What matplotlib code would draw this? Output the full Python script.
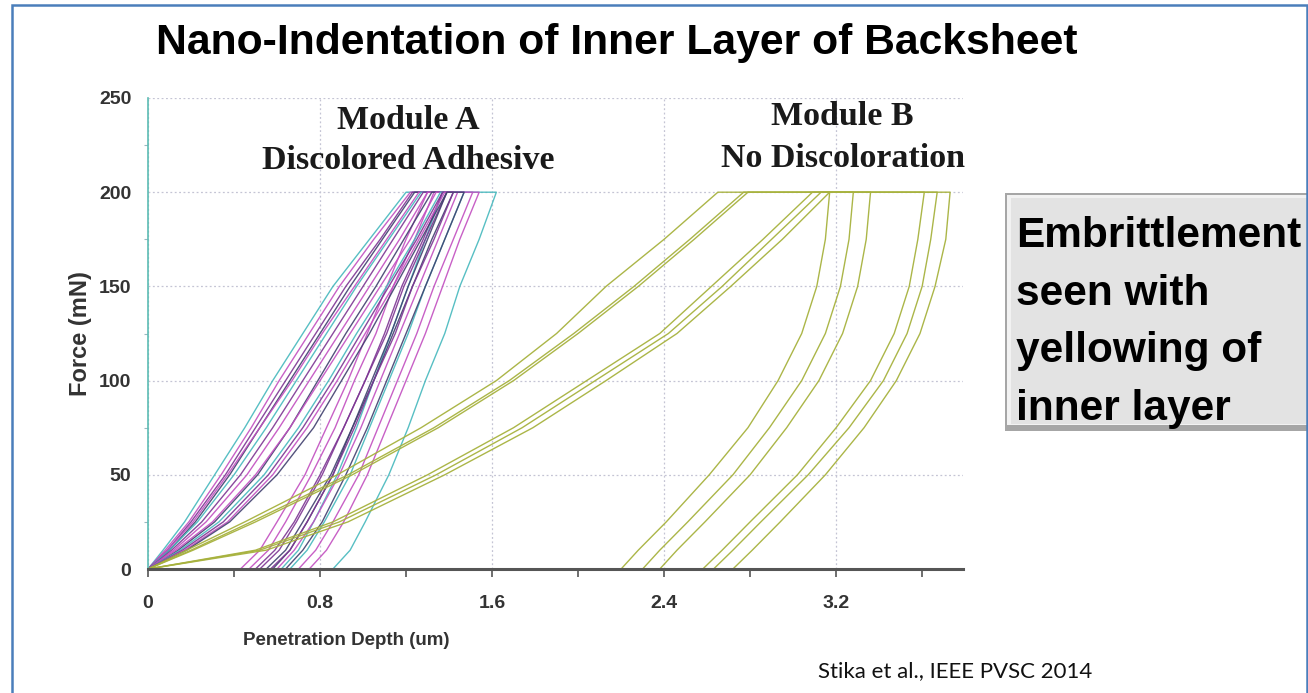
import matplotlib
matplotlib.use("Agg")
import matplotlib.pyplot as plt
from matplotlib.patches import Rectangle
from matplotlib.ticker import MultipleLocator

plt.rcParams['font.family'] = ['Liberation Sans', 'DejaVu Sans']

FORCE = [0, 10, 25, 50, 75, 100, 125, 150, 175, 200]

# Module A (discolored adhesive): depth (um) on loading, at each FORCE level
A_LOAD = [
    [0, 0.07, 0.17, 0.31, 0.45, 0.58, 0.72, 0.86, 1.03, 1.20],
    [0, 0.08, 0.19, 0.34, 0.48, 0.61, 0.75, 0.89, 1.05, 1.22],
    [0, 0.09, 0.20, 0.36, 0.50, 0.64, 0.78, 0.92, 1.08, 1.23],
    [0, 0.10, 0.22, 0.38, 0.52, 0.66, 0.80, 0.94, 1.09, 1.24],
    [0, 0.09, 0.21, 0.37, 0.52, 0.67, 0.81, 0.96, 1.11, 1.26],
    [0, 0.10, 0.23, 0.40, 0.55, 0.69, 0.83, 0.97, 1.12, 1.27],
    [0, 0.11, 0.25, 0.43, 0.58, 0.72, 0.86, 1.00, 1.14, 1.28],
    [0, 0.12, 0.27, 0.46, 0.61, 0.75, 0.89, 1.03, 1.17, 1.30],
    [0, 0.14, 0.31, 0.51, 0.66, 0.79, 0.92, 1.06, 1.19, 1.32],
    [0, 0.13, 0.30, 0.50, 0.66, 0.80, 0.94, 1.08, 1.22, 1.34],
    [0, 0.15, 0.33, 0.54, 0.70, 0.84, 0.97, 1.11, 1.24, 1.36],
    [0, 0.16, 0.35, 0.56, 0.72, 0.86, 0.99, 1.12, 1.25, 1.37],
    [0, 0.17, 0.37, 0.58, 0.74, 0.88, 1.01, 1.14, 1.26, 1.38],
    [0, 0.18, 0.38, 0.60, 0.77, 0.90, 1.03, 1.15, 1.27, 1.39],
]
# Module A: depth (um) on unloading, at each FORCE level (last = max depth)
A_UNLOAD = [
    [0.62, 0.70, 0.77, 0.88, 0.97, 1.05, 1.13, 1.21, 1.29, 1.37],
    [0.43, 0.52, 0.60, 0.73, 0.83, 0.93, 1.02, 1.11, 1.20, 1.30],
    [0.50, 0.59, 0.68, 0.80, 0.91, 1.01, 1.11, 1.19, 1.29, 1.39],
    [0.55, 0.64, 0.72, 0.85, 0.95, 1.05, 1.14, 1.23, 1.32, 1.42],
    [0.47, 0.56, 0.64, 0.76, 0.87, 0.96, 1.06, 1.14, 1.24, 1.33],
    [0.66, 0.74, 0.82, 0.94, 1.03, 1.12, 1.21, 1.29, 1.38, 1.47],
    [0.52, 0.61, 0.69, 0.81, 0.91, 1.01, 1.10, 1.18, 1.28, 1.37],
    [0.70, 0.78, 0.86, 0.98, 1.07, 1.16, 1.25, 1.33, 1.42, 1.51],
    [0.58, 0.66, 0.74, 0.86, 0.95, 1.04, 1.13, 1.21, 1.30, 1.39],
    [0.60, 0.68, 0.77, 0.89, 0.99, 1.08, 1.17, 1.26, 1.35, 1.44],
    [0.86, 0.94, 1.01, 1.12, 1.21, 1.29, 1.38, 1.45, 1.54, 1.62],
    [0.57, 0.66, 0.74, 0.86, 0.96, 1.05, 1.15, 1.23, 1.33, 1.42],
    [0.75, 0.83, 0.91, 1.02, 1.11, 1.20, 1.29, 1.37, 1.45, 1.54],
    [0.64, 0.72, 0.81, 0.92, 1.02, 1.11, 1.20, 1.29, 1.38, 1.47],
]
A_COLORS = ['#45b8bd', '#c24fc0', '#7d3593', '#41406f', '#c24fc0', '#45b8bd', '#7d3593',
            '#c24fc0', '#41406f', '#c24fc0', '#45b8bd', '#7d3593', '#c24fc0', '#41406f']

# Module B (no discoloration)
B_LOAD = [
    [0, 0.18, 0.45, 0.88, 1.27, 1.62, 1.90, 2.13, 2.40, 2.65],
    [0, 0.20, 0.48, 0.93, 1.33, 1.68, 1.98, 2.26, 2.52, 2.77],
    [0, 0.21, 0.50, 0.95, 1.35, 1.70, 2.00, 2.28, 2.54, 2.79],
    [0, 0.50, 0.86, 1.30, 1.70, 2.04, 2.38, 2.62, 2.86, 3.09],
    [0, 0.52, 0.89, 1.34, 1.74, 2.08, 2.42, 2.67, 2.90, 3.13],
    [0, 0.55, 0.93, 1.38, 1.79, 2.13, 2.46, 2.71, 2.95, 3.17],
]
B_UNLOAD = [
    [2.20, 2.28, 2.41, 2.61, 2.79, 2.93, 3.04, 3.11, 3.15, 3.17],
    [2.30, 2.38, 2.51, 2.72, 2.89, 3.04, 3.15, 3.22, 3.26, 3.28],
    [2.38, 2.46, 2.59, 2.80, 2.97, 3.12, 3.23, 3.30, 3.34, 3.36],
    [2.58, 2.67, 2.80, 3.02, 3.20, 3.36, 3.47, 3.54, 3.58, 3.61],
    [2.63, 2.72, 2.85, 3.07, 3.26, 3.42, 3.53, 3.60, 3.64, 3.67],
    [2.72, 2.81, 2.94, 3.15, 3.33, 3.48, 3.59, 3.66, 3.71, 3.73],
]
B_COLOR = '#a7b23e'

X_TICKS = [0, 0.8, 1.6, 2.4, 3.2]
X_TICK_LABELS = ['0', '0.8', '1.6', '2.4', '3.2']
Y_TICKS = [0, 50, 100, 150, 200, 250]

W, H = 1308, 693


def fx(px):
    return px / W


def fy(py):
    return 1 - py / H


fig = plt.figure(figsize=(W / 100, H / 100), dpi=100)
fig.patch.set_facecolor('white')

ax = fig.add_axes([fx(148), fy(569), (963 - 148) / W, (569 - 98) / H])

# one closed loop per indent: loading up, hold at max force, unloading down
for load, unload, color in zip(A_LOAD, A_UNLOAD, A_COLORS):
    ax.plot(load + unload[::-1], FORCE + FORCE[::-1], color=color, lw=1.0, alpha=0.9,
            solid_joinstyle='round')
for load, unload in zip(B_LOAD, B_UNLOAD):
    ax.plot(load + unload[::-1], FORCE + FORCE[::-1], color=B_COLOR, lw=1.0, alpha=0.95,
            solid_joinstyle='round')

ax.set_xlim(0, 3.79)
ax.set_ylim(0, 250)

ax.set_xticks(X_TICKS)
ax.set_xticklabels(X_TICK_LABELS)
ax.xaxis.set_minor_locator(MultipleLocator(0.4))
ax.set_yticks(Y_TICKS)
ax.yaxis.set_minor_locator(MultipleLocator(25))

ax.tick_params(axis='x', which='both', direction='out', length=6, width=1.2,
               color='#555555', pad=13, labelsize=14, labelcolor='#333333')
ax.tick_params(axis='y', which='major', length=0, pad=12, labelsize=14,
               labelcolor='#333333')
ax.tick_params(axis='y', which='minor', direction='out', length=3, width=0.8,
               color='#9ab8c0')
for lab in ax.get_xticklabels() + ax.get_yticklabels():
    lab.set_fontweight('bold')

ax.grid(True, which='major', linestyle=(0, (1.5, 2)), color='#c4c4d4', lw=0.9)
ax.set_axisbelow(True)

for side in ['top', 'right']:
    ax.spines[side].set_visible(False)
ax.spines['left'].set_color('#5cbcb4')
ax.spines['left'].set_linewidth(1.2)
ax.spines['bottom'].set_color('#555555')
ax.spines['bottom'].set_linewidth(2.2)

ax.set_xlabel('Penetration Depth (um)', fontsize=13.5, fontweight='bold', color='#333333',
              va='center')
ax.xaxis.set_label_coords(0.243, -0.151)
ax.set_ylabel('Force (mN)', fontsize=17, fontweight='bold', color='#333333', va='center')
ax.yaxis.set_label_coords(-0.083, 0.5)

serif = dict(ha='center', va='center', fontsize=24.5, fontweight='bold',
             family='Liberation Serif', color='#1a1a1a')
ax.text(1.21, 238, 'Module A', **serif)
ax.text(1.21, 217, 'Discolored Adhesive', **serif)
ax.text(3.23, 240, 'Module B', **serif)
ax.text(3.23, 218, 'No Discoloration', **serif)

# slide title
fig.text(fx(617), fy(43), 'Nano-Indentation of Inner Layer of Backsheet', ha='center',
         va='center', fontsize=30.7, fontweight='bold', color='black')

# grey call-out box, running into the right edge of the slide
fig.add_artist(Rectangle((fx(1005), fy(431)), (1330 - 1005) / W, (431 - 193) / H,
                         transform=fig.transFigure, facecolor='#a6a6a6', edgecolor='none'))
fig.add_artist(Rectangle((fx(1007), fy(425)), (1330 - 1007) / W, (425 - 195) / H,
                         transform=fig.transFigure, facecolor='#f2f2f2', edgecolor='none'))
fig.add_artist(Rectangle((fx(1011), fy(424)), (1330 - 1011) / W, (424 - 198) / H,
                         transform=fig.transFigure, facecolor='#e3e3e3', edgecolor='none'))
box_lines = ['Embrittlement', 'seen with', 'yellowing of', 'inner layer']
box_baselines = [247, 305, 362, 420]
for line, base in zip(box_lines, box_baselines):
    fig.text(fx(1016), fy(base), line, ha='left', va='baseline', fontsize=30.5,
             fontweight='bold', color='black')

fig.text(fx(818), fy(677), 'Stika et al., IEEE PVSC 2014', ha='left', va='baseline',
         fontsize=16, family='Lato', color='#111111')

# blue slide frame
fig.add_artist(Rectangle((fx(11.5), -0.05), (1307 - 11.5) / W, 1.05 - 5 / H,
                         transform=fig.transFigure, fill=False, edgecolor='#4a7ebb', lw=1.8))

fig.savefig('out.png', dpi=100)
